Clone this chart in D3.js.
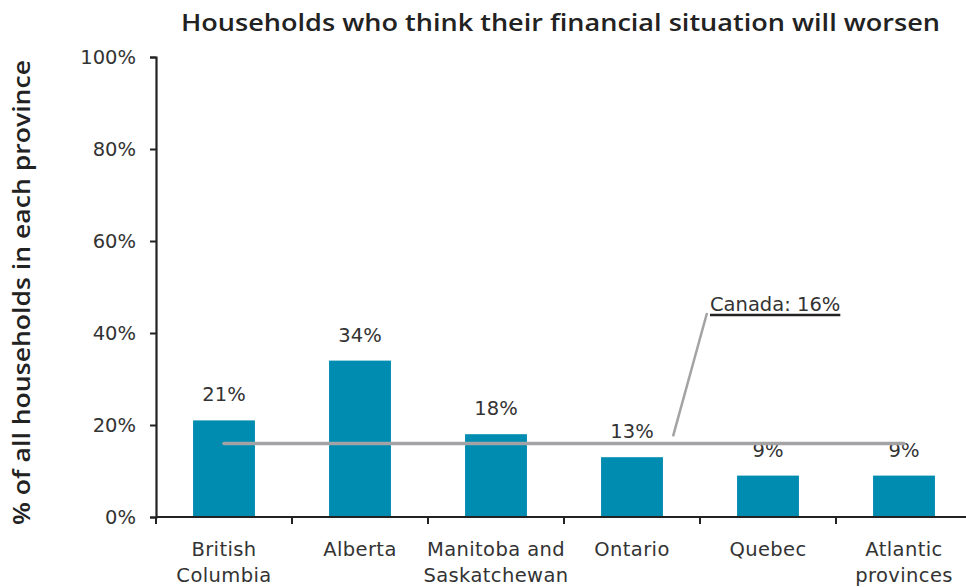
<!DOCTYPE html>
<html>
<head>
<meta charset="utf-8">
<script src="https://cdn.jsdelivr.net/npm/d3@7"></script>
<style>
  body { margin: 0; background: #fff; }
  svg { display: block; font-family: "DejaVu Sans", sans-serif; }
</style>
</head>
<body>
<svg id="chart" width="966" height="587"></svg>
<script>
// Share of households expecting their finances to worsen, by province
const categories = [["British", "Columbia"], ["Alberta"], ["Manitoba and", "Saskatchewan"], ["Ontario"], ["Quebec"], ["Atlantic", "provinces"]];
const values = [21, 34, 18, 13, 9, 9];
const canadaValue = 16;
const yTicks = [0, 20, 40, 60, 80, 100];

const svg = d3.select("#chart");
const margin = { left: 156, right: -6 };
const W = 966;

const x = d3.scaleBand()
  .domain(d3.range(categories.length))
  .range([margin.left, W - margin.right])
  .paddingInner(0.545)
  .paddingOuter(0.2725);

const y = d3.scaleLinear().domain([0, 100]).range([517, 57]);

const textColor = "#333";
const axisColor = "#222";
const bodyFont = "\"DejaVu Sans\", sans-serif";
const bodySize = 19.5;

// Title
svg.append("text")
  .attr("x", 181).attr("y", 31)
  .attr("font-family", "\"Open Sans\", sans-serif")
  .attr("font-size", 23)
  .attr("font-weight", 600)
  .attr("fill", "#222")
  .attr("textLength", 759)
  .attr("lengthAdjust", "spacingAndGlyphs")
  .text("Households who think their financial situation will worsen");

// Y axis title
svg.append("text")
  .attr("transform", "translate(30,525) rotate(-90)")
  .attr("font-family", "\"Open Sans\", sans-serif")
  .attr("font-size", 23)
  .attr("font-weight", 600)
  .attr("fill", "#222")
  .attr("textLength", 465)
  .attr("lengthAdjust", "spacingAndGlyphs")
  .text("% of all households in each province");

// Bars
svg.append("g").selectAll("rect")
  .data(values)
  .join("rect")
  .attr("x", (d, i) => x(i))
  .attr("width", x.bandwidth())
  .attr("y", d => y(d))
  .attr("height", d => y(0) - y(d))
  .attr("fill", "#008CB0");

// Value labels
svg.append("g").selectAll("text")
  .data(values)
  .join("text")
  .attr("x", (d, i) => x(i) + x.bandwidth() / 2)
  .attr("y", d => y(d) - 19)
  .attr("text-anchor", "middle")
  .attr("font-size", bodySize)
  .attr("fill", textColor)
  .text(d => d + "%");

// Canada average line across the provinces
const cx = i => x(i) + x.bandwidth() / 2;
svg.append("line")
  .attr("x1", cx(0)).attr("x2", cx(categories.length - 1))
  .attr("y1", y(canadaValue)).attr("y2", y(canadaValue))
  .attr("stroke", "#a3a3a5")
  .attr("stroke-width", 3.5)
  .attr("stroke-linecap", "round");

// Callout for the Canada line
svg.append("line")
  .attr("x1", 673).attr("y1", y(canadaValue) - 7)
  .attr("x2", 707).attr("y2", 313)
  .attr("stroke", "#a3a3a5")
  .attr("stroke-width", 2.5);
const calloutText = svg.append("text")
  .attr("x", 710).attr("y", 311)
  .attr("font-size", bodySize)
  .attr("fill", textColor)
  .text("Canada: " + canadaValue + "%");
const bb = calloutText.node().getBBox();
svg.append("line")
  .attr("x1", 710).attr("x2", bb.x + bb.width)
  .attr("y1", 315).attr("y2", 315)
  .attr("stroke", "#222")
  .attr("stroke-width", 2.5);

// Y axis
const yAxis = svg.append("g")
  .attr("transform", `translate(${margin.left},0)`)
  .call(d3.axisLeft(y).tickValues(yTicks).tickFormat(d => d + "%").tickSize(6).tickPadding(14));
yAxis.select(".domain").attr("stroke", axisColor).attr("stroke-width", 2.2);
yAxis.selectAll(".tick line").attr("stroke", axisColor).attr("stroke-width", 2);
yAxis.selectAll(".tick text")
  .attr("font-size", bodySize)
  .attr("font-family", bodyFont)
  .attr("fill", textColor);

// X axis: ticks at category boundaries
const boundaries = d3.range(categories.length).map(i => x(i) - x.step() * x.paddingInner() / 2);
const xg = svg.append("g");
xg.append("line")
  .attr("x1", margin.left).attr("x2", W)
  .attr("y1", y(0)).attr("y2", y(0))
  .attr("stroke", axisColor).attr("stroke-width", 2.2);
xg.selectAll("line.tick")
  .data(boundaries)
  .join("line")
  .attr("class", "tick")
  .attr("x1", d => d).attr("x2", d => d)
  .attr("y1", y(0)).attr("y2", y(0) + 7)
  .attr("stroke", axisColor).attr("stroke-width", 2);

// Category labels
const labels = xg.selectAll("text.cat")
  .data(categories)
  .join("text")
  .attr("class", "cat")
  .attr("text-anchor", "middle")
  .attr("font-size", bodySize)
  .attr("letter-spacing", 0.4)
  .attr("fill", textColor);
labels.each(function(lines, i) {
  const t = d3.select(this);
  lines.forEach((ln, j) => {
    t.append("tspan")
      .attr("x", cx(i))
      .attr("y", 556 + j * 25.5)
      .text(ln);
  });
});
</script>
</body>
</html>
